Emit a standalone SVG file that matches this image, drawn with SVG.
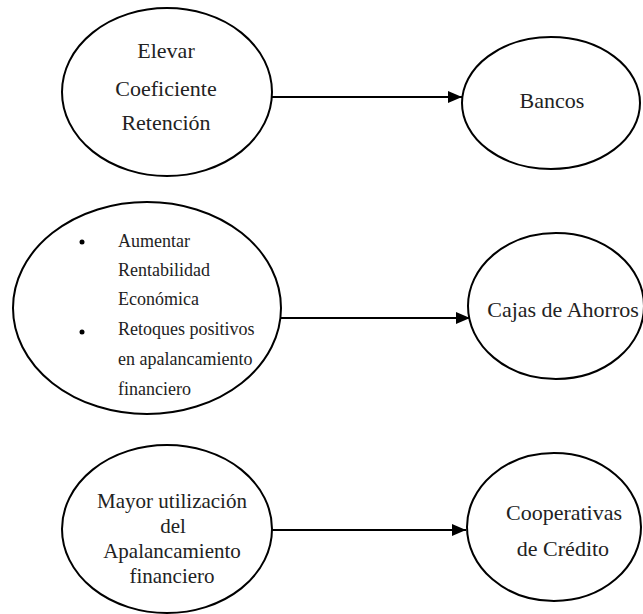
<svg xmlns="http://www.w3.org/2000/svg" width="643" height="614" viewBox="0 0 643 614">
<style>
.node ellipse{fill:#fff;stroke:#000;stroke-width:2}
text{font-family:"Liberation Serif","Times New Roman",serif;fill:#222}
.c{text-anchor:middle}
.big{font-size:22px}
.mid{font-size:21px}
.sm{font-size:18px}
.conn line{stroke:#000;stroke-width:2}
</style>
<defs>
<marker id="ah" markerUnits="userSpaceOnUse" markerWidth="14" markerHeight="12" refX="14" refY="6" orient="auto">
<path d="M0,0 L14,6 L0,12 Z" fill="#000"/>
</marker>
</defs>
<rect width="643" height="614" fill="#fff"/>
<g id="n1" class="node">
<ellipse cx="167" cy="92" rx="105" ry="84"/>
<text class="c big" x="166" y="58">Elevar</text>
<text class="c big" x="166" y="96">Coeficiente</text>
<text class="c big" x="166" y="130">Retención</text>
</g>
<g id="n2" class="node">
<ellipse cx="551" cy="103" rx="89" ry="66"/>
<text class="c big" x="552" y="108">Bancos</text>
</g>
<g id="n3" class="node">
<ellipse cx="147" cy="308" rx="134" ry="106"/>
<circle cx="82" cy="242" r="2.5" fill="#000"/>
<circle cx="82" cy="332" r="2.5" fill="#000"/>
<text class="sm" x="118" y="247">Aumentar</text>
<text class="sm" x="118" y="276">Rentabilidad</text>
<text class="sm" x="118" y="305">Económica</text>
<text class="sm" x="118" y="335">Retoques positivos</text>
<text class="sm" x="118" y="365">en apalancamiento</text>
<text class="sm" x="118" y="395">financiero</text>
</g>
<g id="n4" class="node">
<ellipse cx="556" cy="306" rx="88" ry="73"/>
<text class="c big" x="563" y="317">Cajas de Ahorros</text>
</g>
<g id="n5" class="node">
<ellipse cx="167" cy="529" rx="105" ry="84"/>
<text class="c mid" x="172" y="508">Mayor utilización</text>
<text class="c mid" x="173" y="533">del</text>
<text class="c mid" x="172" y="558">Apalancamiento</text>
<text class="c mid" x="172" y="583">financiero</text>
</g>
<g id="n6" class="node">
<ellipse cx="554" cy="527" rx="87" ry="74"/>
<text class="c big" x="564" y="520">Cooperativas</text>
<text class="c big" x="563" y="556">de Crédito</text>
</g>
<g id="connectors" class="conn">
<line x1="272" y1="97" x2="462" y2="97" marker-end="url(#ah)"/>
<line x1="281" y1="318" x2="470" y2="318" marker-end="url(#ah)"/>
<line x1="272" y1="530" x2="466" y2="530" marker-end="url(#ah)"/>
</g>
</svg>
